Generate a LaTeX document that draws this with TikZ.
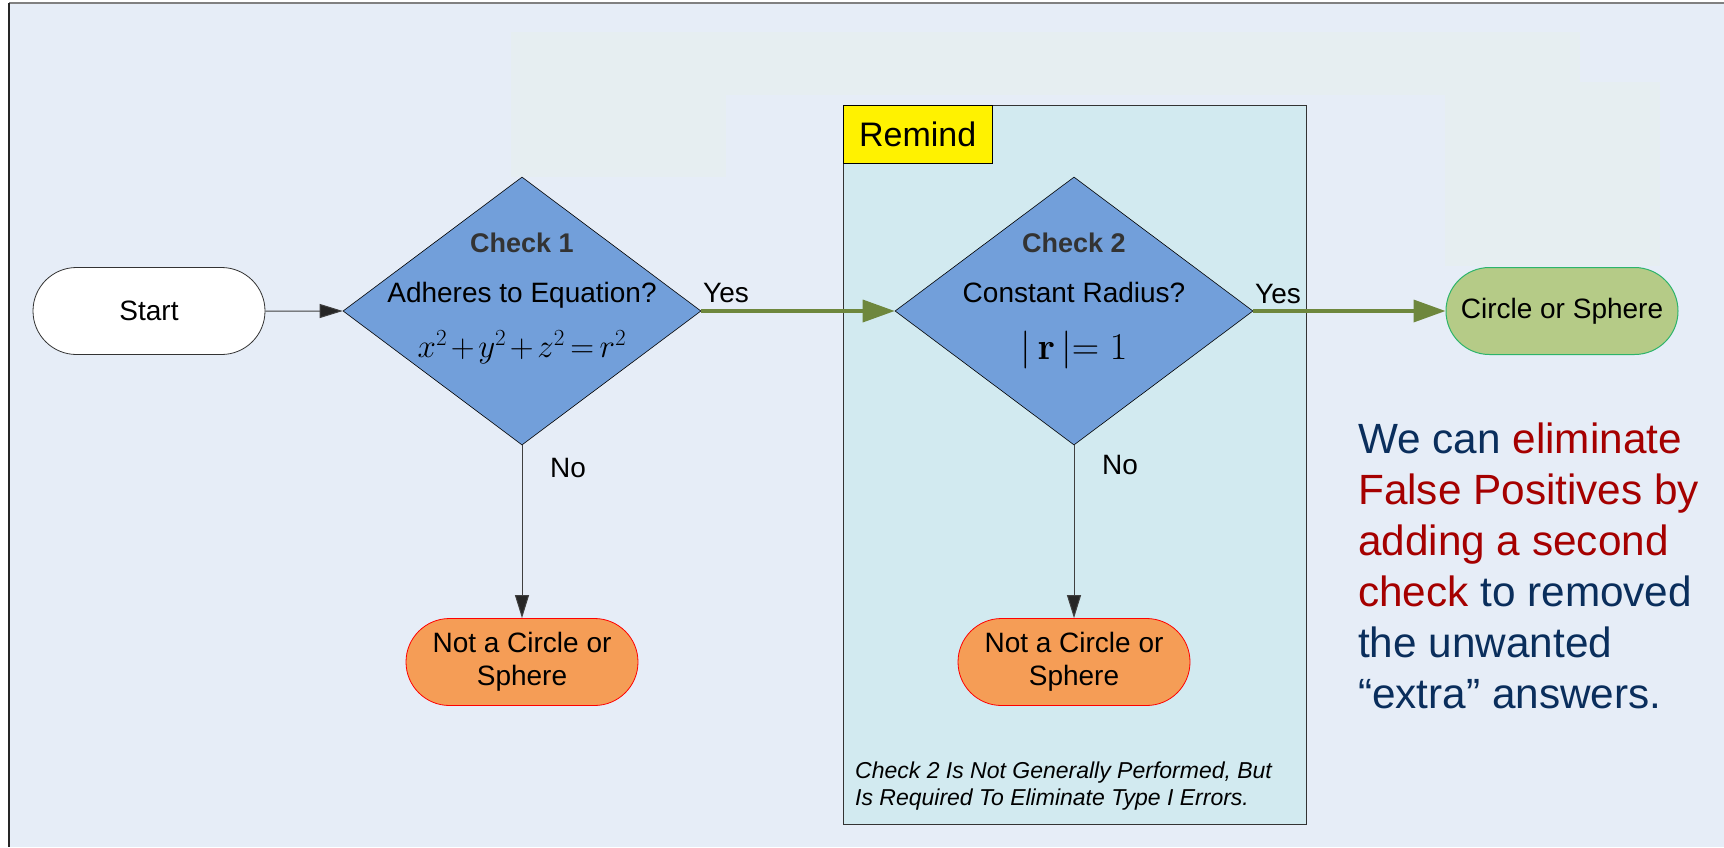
\RequirePackage{fix-cm}
\documentclass[tikz,border=0pt]{standalone}
\usepackage[no-math]{fontspec}
\setmainfont{Liberation Sans}
\usetikzlibrary{shapes.geometric,shapes.misc,arrows.meta}

\definecolor{pagebg}{HTML}{E6EDF7}
\definecolor{haze}{HTML}{E6EEF1}
\definecolor{panelbg}{HTML}{D2EAF0}
\definecolor{decisionblue}{HTML}{729FDA}
\definecolor{stopfill}{HTML}{F59D56}
\definecolor{goalfill}{HTML}{B5CB87}
\definecolor{goalline}{HTML}{2DB46B}
\definecolor{olive}{HTML}{6E873D}
\definecolor{navy}{HTML}{0A2E5C}
\definecolor{alert}{HTML}{A50000}
\definecolor{titlegray}{HTML}{333333}

\begin{document}
\begin{tikzpicture}[x=1pt,y=-1pt,
  body/.style={font=\fontsize{28}{33}\selectfont},
  terminal/.style={rounded rectangle, draw=black!80, line width=0.8pt,
    minimum width=232pt, minimum height=87pt, inner sep=0pt, align=center, body},
  stopbox/.style={terminal, fill=stopfill, draw=red},
  goalbox/.style={terminal, fill=goalfill, draw=goalline, line width=1pt},
  startbox/.style={terminal, fill=white},
  decision/.style={diamond, fill=decisionblue, draw=black, line width=0.6pt,
    minimum width=358pt, minimum height=268pt, inner sep=0pt},
  checktitle/.style={font=\fontsize{27}{32}\bfseries\selectfont, text=titlegray, inner sep=0pt},
  question/.style={body, inner sep=0pt},
  formula/.style={font=\fontsize{33}{38}\selectfont, inner sep=0pt},
  lbl/.style={body, inner sep=0pt},
  panel/.style={rectangle, fill=panelbg, draw=black!80, line width=0.8pt,
    minimum width=463pt, minimum height=719pt, inner sep=0pt},
  tagbox/.style={rectangle, fill=yellow, draw=black, line width=1.2pt,
    minimum width=149pt, minimum height=58pt, inner sep=0pt,
    font=\fontsize{34}{38}\selectfont},
  thinarrow/.style={draw=black!75, line width=1pt,
    -{Triangle[length=23pt,width=14pt,fill=black!85]}},
  flowarrow/.style={draw=olive, line width=3.5pt,
    -{Triangle[length=32pt,width=22pt]}},
]
\useasboundingbox (0,0) rectangle (1724,847);

% page and frame
\fill[white] (0,0) rectangle (1724,847);
\fill[pagebg] (9,3) rectangle (1724,847);
\fill[haze] (511,32) rectangle (726,177);
\fill[haze] (511,32) rectangle (1580,95);
\fill[haze] (1445,32) rectangle (1580,266);
\fill[haze] (1580,82) rectangle (1660,266);
\draw[black!50, line width=2pt] (9,3) -- (1724,3);
\draw[black!85, line width=2pt] (9,3) -- (9,847);

% reminder panel around the second check
\node[panel] (panel) at (1074.5,464.5) {};
\node[tagbox, anchor=north west] (tag) at (panel.north west) {Remind};
\node[anchor=base west, inner sep=0pt, align=left,
      font=\fontsize{23}{27}\itshape\selectfont] (note) at (855,805)
  {Check 2 Is Not Generally Performed, But\\Is Required To Eliminate Type I Errors.};

% flow nodes
\node[startbox] (start) at (149,311) {Start};
\node[decision] (c1) at (522,311) {};
\node[decision] (c2) at (1074,311) {};
\node[stopbox] (no1box) at (522,662) {Not a Circle or\\Sphere};
\node[stopbox] (no2box) at (1074,662) {Not a Circle or\\Sphere};
\node[goalbox] (goal) at (1562,311) {Circle or Sphere};

% decision texts
\node[checktitle, anchor=base] (c1title) at (522,252) {Check 1};
\node[question, anchor=base] (c1q) at (522,302) {Adheres to Equation?};
\node[formula, anchor=base] (c1eq) at (522,357)
  {$\medmuskip=2mu\thickmuskip=3mu x^2+y^2+z^2=r^2$};
\node[checktitle, anchor=base] (c2title) at (1074,252) {Check 2};
\node[question, anchor=base] (c2q) at (1074,302) {Constant Radius?};
\node[formula, anchor=base, font=\fontsize{38}{42}\selectfont] (c2eq) at (1074,359)
  {$|\,\mathbf{r}\,|{=}\;1$};

% connectors
\draw[thinarrow] (start) -- (c1);
\draw[flowarrow] (c1) -- (c2);
\draw[flowarrow] (c2) -- (goal);
\draw[thinarrow] (c1) -- (no1box);
\draw[thinarrow] (c2) -- (no2box);

% branch labels
\node[lbl, anchor=base west] (yes1) at (703,302) {Yes};
\node[lbl, anchor=base west] (yes2) at (1255,303) {Yes};
\node[lbl, anchor=base west] (no1) at (550,477) {No};
\node[lbl, anchor=base west] (no2) at (1102,474) {No};

% side remark
\node[anchor=base west, inner sep=0pt, align=left, text=navy,
      font=\fontsize{42.3}{51}\selectfont] (remark) at (1358,708)
  {We can \textcolor{alert}{eliminate}\\
   \textcolor{alert}{False Positives by}\\
   \textcolor{alert}{adding a second}\\
   \textcolor{alert}{check} to removed\\
   the unwanted\\
   “extra” answers.};
\end{tikzpicture}
\end{document}
